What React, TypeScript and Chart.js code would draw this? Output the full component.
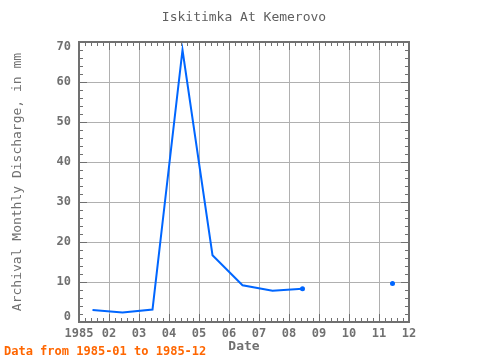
import { useEffect, useRef } from "react";
import { Chart, registerables } from "chart.js";
Chart.register(...registerables);

const monthPositions = [0.45, 1.45, 2.45, 3.45, 4.45, 5.45, 6.45, 7.45, 8.45, 9.45, 10.45, 11.45];
const discharge: (number | null)[] = [3.0, 2.4, 3.1, 68.0, 16.7, 9.2, 7.8, 8.3, null, null, 9.6, null];
const xTickLabels = ["1985", "02", "03", "04", "05", "06", "07", "08", "09", "10", "11", "12"];
const yTickValues = [0, 10, 20, 30, 40, 50, 60, 70];
const titleText = "Iskitimka At Kemerovo";
const yTitle = "Archival Monthly Discharge, in mm";
const xTitle = "Date";
const footText = "Data from 1985-01 to 1985-12";

const FONT = "'DejaVu Sans Mono', monospace";

const decorPlugin = {
  id: "decor",
  beforeDatasetsDraw(chart: any) {
    const { ctx, chartArea: a, scales } = chart;
    const xs = scales.x, ys = scales.y;
    ctx.save();
    ctx.strokeStyle = "#707070";
    ctx.lineWidth = 1;
    for (let m = 0; m <= 11; m++) {
      for (let k = 0; k < 5; k++) {
        const v = m + k / 5;
        if (v > 11) break;
        const px = Math.round(xs.getPixelForValue(v)) + 0.5;
        const len = k === 0 ? 8 : 4;
        ctx.beginPath();
        ctx.moveTo(px, a.top); ctx.lineTo(px, a.top + len);
        ctx.moveTo(px, a.bottom); ctx.lineTo(px, a.bottom - len);
        ctx.stroke();
      }
    }
    for (let v = 0; v <= 70; v += 2) {
      const py = Math.round(ys.getPixelForValue(v)) + 0.5;
      const len = v % 10 === 0 ? 8 : 4;
      ctx.beginPath();
      ctx.moveTo(a.left, py); ctx.lineTo(a.left + len, py);
      ctx.moveTo(a.right, py); ctx.lineTo(a.right - len, py);
      ctx.stroke();
    }
    ctx.lineWidth = 2;
    ctx.strokeRect(a.left, a.top, a.right - a.left, a.bottom - a.top);
    // y tick labels, kept inside the plot's height
    ctx.fillStyle = "#707070";
    ctx.font = `bold 12px ${FONT}`;
    ctx.textAlign = "right";
    ctx.textBaseline = "middle";
    for (const v of yTickValues) {
      let py = ys.getPixelForValue(v);
      py = Math.min(Math.max(py, a.top + 5), a.bottom - 5);
      ctx.fillText(String(v), a.left - 8, py);
    }
    ctx.restore();
  },
  afterDraw(chart: any) {
    const { ctx, chartArea: a } = chart;
    ctx.save();
    ctx.fillStyle = "#606060";
    ctx.font = `13px ${FONT}`;
    ctx.textAlign = "center";
    ctx.textBaseline = "middle";
    ctx.fillText(titleText, (a.left + a.right) / 2, 18);
    ctx.font = `bold 13px ${FONT}`;
    ctx.fillStyle = "#707070";
    ctx.fillText(xTitle, (a.left + a.right) / 2, 347);
    ctx.save();
    ctx.translate(18, (a.top + a.bottom) / 2);
    ctx.rotate(-Math.PI / 2);
    ctx.font = `13px ${FONT}`;
    ctx.fillText(yTitle, 0, 0);
    ctx.restore();
    ctx.fillStyle = "#ff6600";
    ctx.font = `bold 12px ${FONT}`;
    ctx.textAlign = "left";
    ctx.fillText(footText, 4, 352);
    ctx.restore();
  },
};

export default function App() {
  const ref = useRef<HTMLCanvasElement>(null);
  useEffect(() => {
    const data = monthPositions.map((x, i) => ({ x, y: discharge[i] }));
    const radii = discharge.map((v, i) => {
      if (v === null) return 0;
      const prev = i > 0 ? discharge[i - 1] : null;
      const next = i < discharge.length - 1 ? discharge[i + 1] : null;
      return prev === null || next === null ? (i === 0 ? 0 : 2.5) : 0;
    });
    const chart = new Chart(ref.current!, {
      type: "line",
      data: {
        datasets: [
          {
            data: data as any,
            borderColor: "#0066ff",
            backgroundColor: "#0066ff",
            borderWidth: 2,
            pointRadius: radii,
            pointBorderWidth: 0,
            spanGaps: false,
            tension: 0,
          },
        ],
      },
      options: {
        animation: false,
        responsive: false,
        maintainAspectRatio: false,
        layout: { padding: { top: 42, right: 71, left: 0, bottom: 0 } },
        plugins: { legend: { display: false }, tooltip: { enabled: false }, title: { display: false } },
        scales: {
          x: {
            type: "linear",
            min: 0,
            max: 11,
            afterFit: (s: any) => { s.height = 38; },
            afterBuildTicks: (s: any) => { s.ticks = xTickLabels.map((_, i) => ({ value: i })); },
            ticks: {
              autoSkip: false,
              maxRotation: 0,
              padding: 5,
              color: "#707070",
              font: { family: FONT, size: 12, weight: "bold" },
              callback: (v: any) => xTickLabels[v] ?? "",
            },
            grid: { color: "#b0b0b0", lineWidth: 1, drawTicks: false },
            border: { display: false },
          },
          y: {
            min: 0,
            max: 70,
            afterFit: (s: any) => { s.width = 79; },
            afterBuildTicks: (s: any) => { s.ticks = yTickValues.map((v) => ({ value: v })); },
            ticks: { display: false },
            grid: { color: "#b0b0b0", lineWidth: 1, drawTicks: false },
            border: { display: false },
          },
        },
      },
      plugins: [decorPlugin],
    });
    return () => chart.destroy();
  }, []);
  return (
    <div style={{ position: "fixed", left: 0, top: 0, width: 480, height: 360, background: "#fff" }}>
      <canvas ref={ref} width={480} height={360} style={{ width: 480, height: 360 }} />
    </div>
  );
}
